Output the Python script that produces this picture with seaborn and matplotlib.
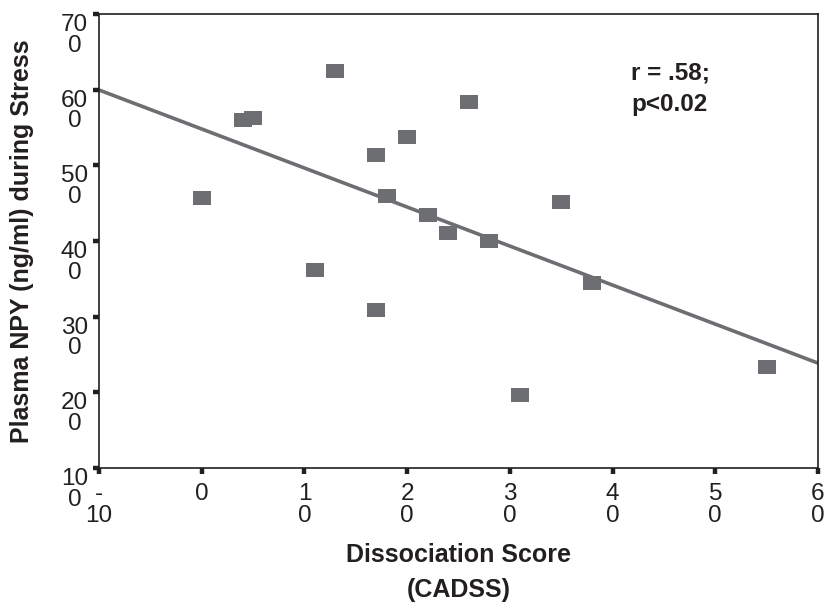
import numpy as np
import pandas as pd
import matplotlib
matplotlib.use("Agg")
import matplotlib.pyplot as plt
import seaborn as sns

# CADSS dissociation score vs plasma NPY during stress
cadss = [0, 4, 5, 13, 26, 20, 17, 18, 22, 24, 28, 11, 17, 35, 38, 31, 55]
npy = [457, 560, 562, 625, 584, 538, 514, 459, 435, 410, 400, 361, 309, 451, 345, 196, 233]

x_ticks = [-10, 0, 10, 20, 30, 40, 50, 60]
x_ticklabels = ["-\n10", "0", "1\n0", "2\n0", "3\n0", "4\n0", "5\n0", "6\n0"]
y_ticks = [100, 200, 300, 400, 500, 600, 700]
y_ticklabels = ["10\n0", "20\n0", "30\n0", "40\n0", "50\n0", "60\n0", "70\n0"]

stat_text = "r = .58;\np<0.02"

df = pd.DataFrame({"cadss": cadss, "npy": npy})

sns.set_style("ticks")
plt.rcParams["font.family"] = ["Liberation Sans", "DejaVu Sans"]

ink = "#231f20"
grey = "#6d6e71"

fig = plt.figure(figsize=(8.25, 6.03), dpi=100)
ax = fig.add_axes([0.12, 0.2239, 0.8715, 0.7529])
ax.set_xlim(-10, 60)
ax.set_ylim(100, 700)

# flat rectangle marker like the original
rect = [(-1, -0.8), (1, -0.8), (1, 0.8), (-1, 0.8), (-1, -0.8)]
sns.regplot(data=df, x="cadss", y="npy", ax=ax, ci=None, truncate=False,
            marker=rect,
            scatter_kws=dict(s=155, color=grey, linewidths=0, alpha=1),
            line_kws=dict(color=grey, lw=2.6))

ax.set_xlim(-10, 60)
ax.set_ylim(100, 700)

for side in ["top", "right", "left", "bottom"]:
    ax.spines[side].set_visible(True)
    ax.spines[side].set_color(ink)
    ax.spines[side].set_linewidth(1.2)

ax.set_xticks(x_ticks)
ax.set_xticklabels(x_ticklabels, fontsize=17.5, color=ink, linespacing=1.0)
ax.set_yticks(y_ticks)
ax.set_yticklabels(y_ticklabels, fontsize=17.5, color=ink, linespacing=0.92)
for lab in ax.get_yticklabels():
    lab.set_verticalalignment("top")
    lab.set_multialignment("center")
ax.tick_params(axis="both", length=4, width=3.2, color=ink)
ax.tick_params(axis="x", pad=7)
ax.tick_params(axis="y", pad=4)

ax.set_xlabel("Dissociation Score\n(CADSS)", fontsize=18, fontweight="bold",
              color=ink, linespacing=1.6)
ax.xaxis.set_label_coords(0.5, -0.165)
ax.xaxis.label.set_verticalalignment("top")
ax.set_ylabel("Plasma NPY (ng/ml) during Stress", fontsize=18, fontweight="bold",
              color=ink)
ax.yaxis.set_label_coords(-0.09, 0.5)

ax.text(41.8, 637, stat_text, ha="left", va="top", fontsize=17.5,
        fontweight="bold", color=ink, linespacing=1.45)

fig.savefig("out.png", dpi=100)
